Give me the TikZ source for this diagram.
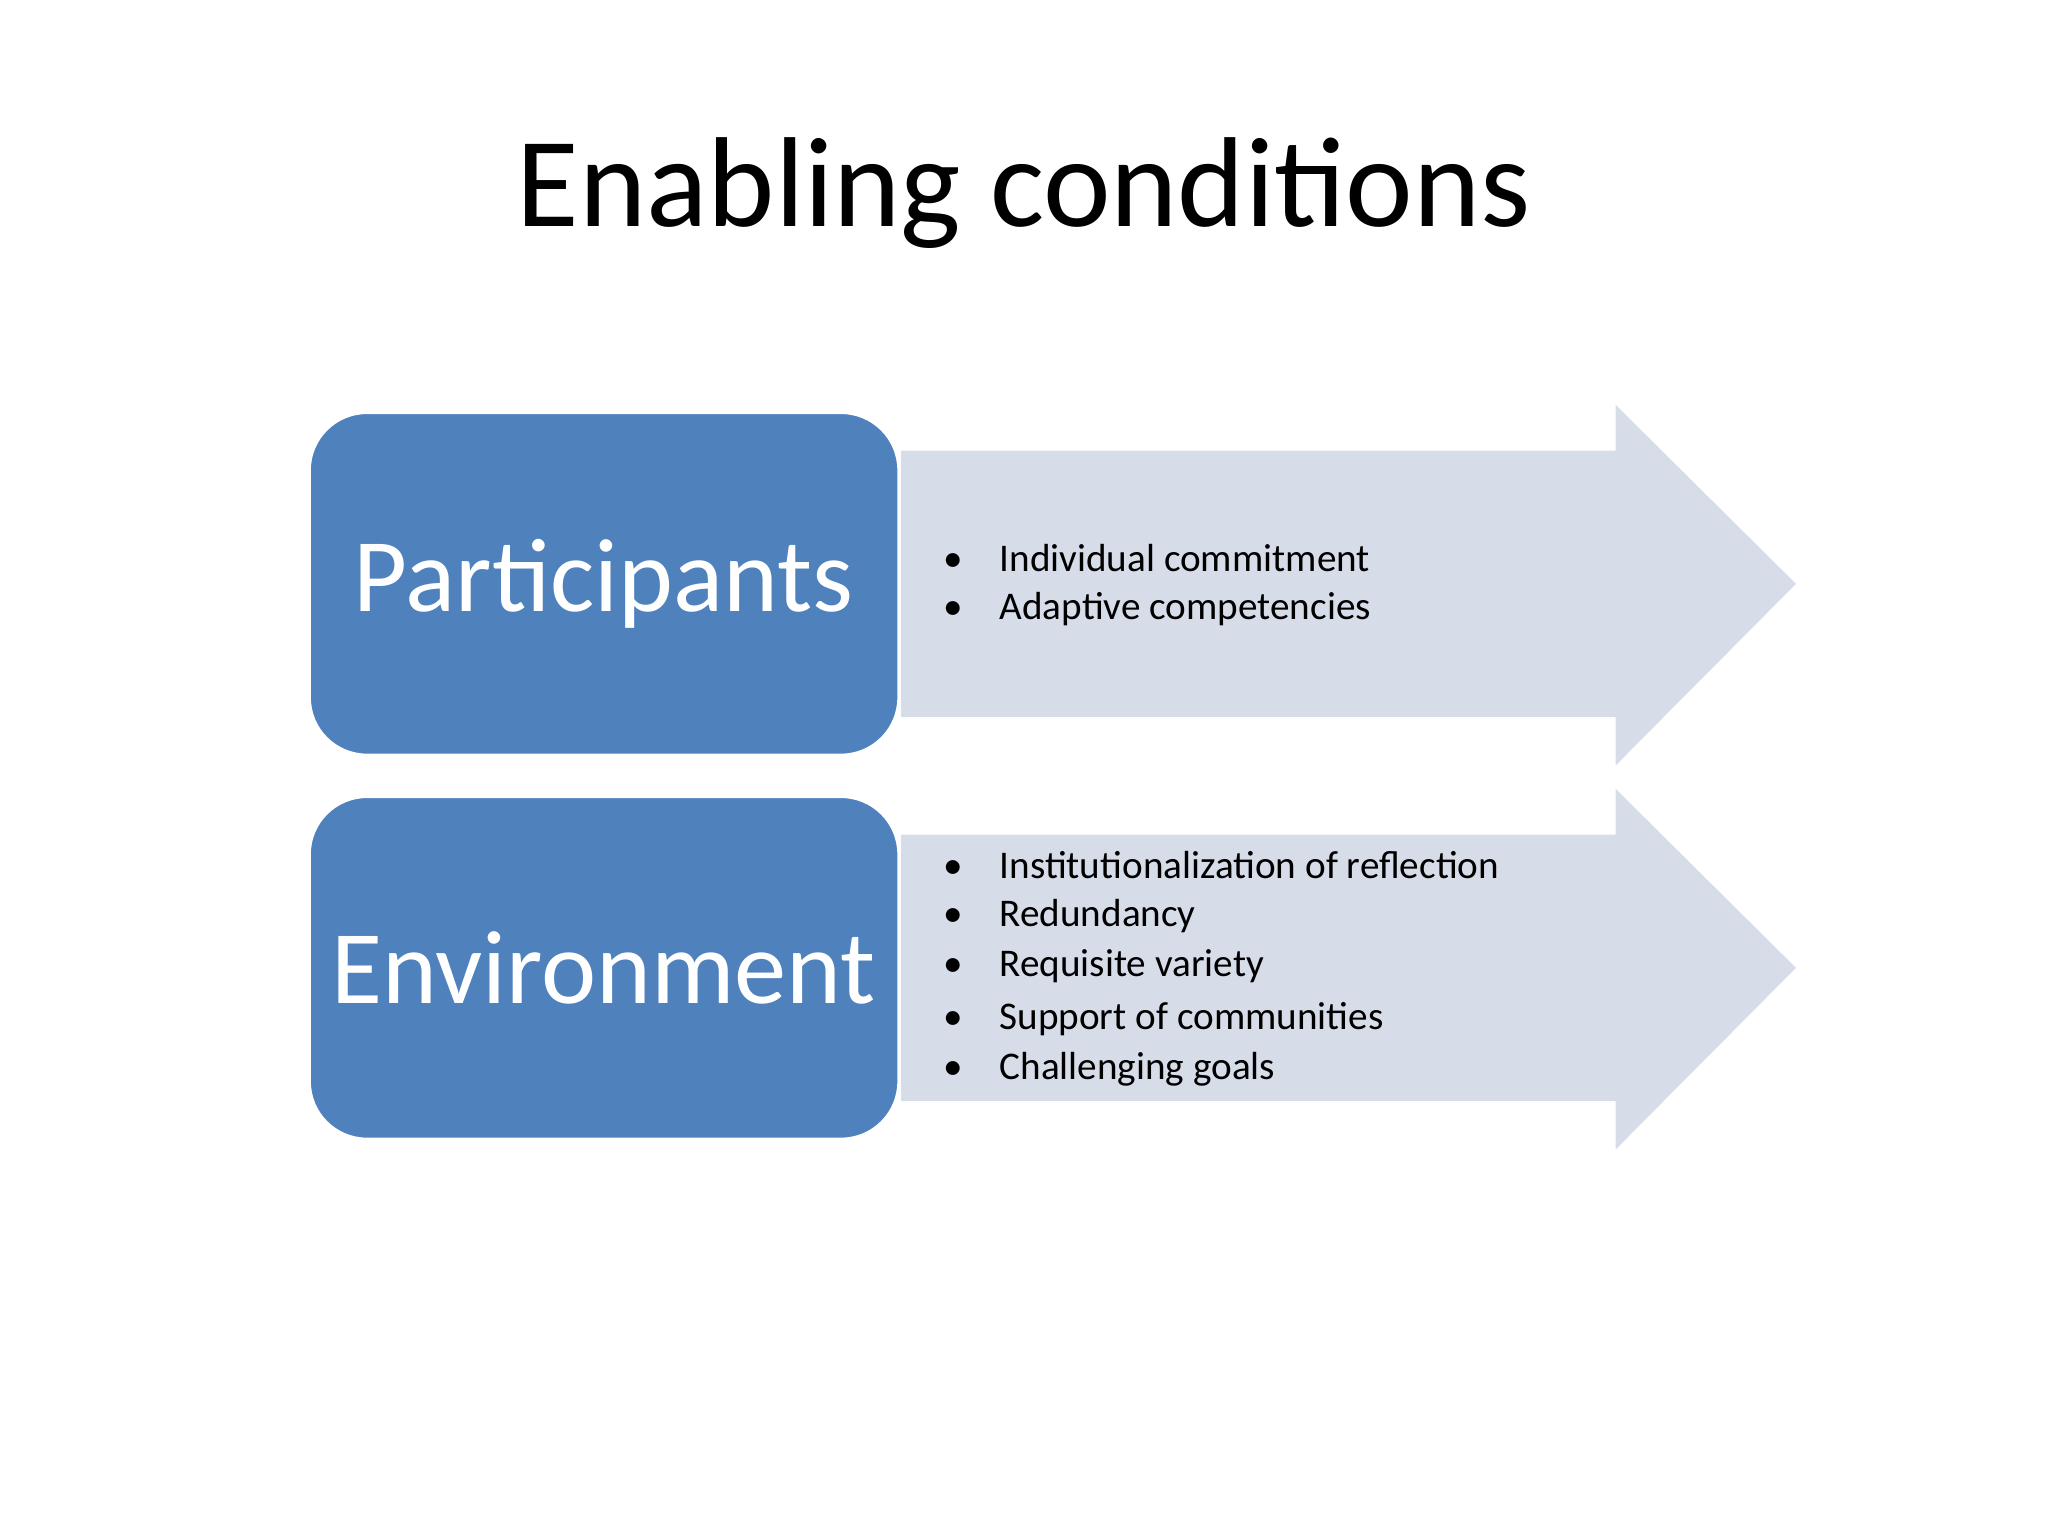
\documentclass[tikz,border=0pt]{standalone}
\usepackage{fontspec}
\setmainfont{Carlito}
\definecolor{boxblue}{HTML}{4F81BD}
\definecolor{arrowgrey}{HTML}{D6DCE8}
\begin{document}
\begin{tikzpicture}[x=0.5pt,y=-0.5pt,
  catbox/.style={fill=boxblue,draw=white,line width=1pt,rounded corners=22pt,text=white,font=\fontsize{40}{48}\selectfont},
  arr/.style={fill=arrowgrey,draw=none},
  item/.style={anchor=west,font=\fontsize{15}{18}\selectfont,inner sep=0pt}]
\useasboundingbox (0,0) rectangle (1568,1176);
\node (title) at (784,148) {\fontsize{49}{58}\selectfont Enabling conditions};
% arrow 1
\path[arr] (690,345) -- (1237,345) -- (1237,310) -- (1375,447) -- (1237,586) -- (1237,549) -- (690,549) -- cycle;
\draw[catbox] (237,316) rectangle (688,578);
\node[text=white,font=\fontsize{40}{48}\selectfont] (p) at (462,447) {Participants};
\foreach \t/\y [count=\i] in {Individual commitment/427, Adaptive competencies/466}
  \node[item] (a\i) at (722,\y) {\textbullet\hspace{14pt}\t};
% arrow 2
\path[arr] (690,639) -- (1237,639) -- (1237,604) -- (1375,741) -- (1237,880) -- (1237,843) -- (690,843) -- cycle;
\draw[catbox] (237,610) rectangle (688,872);
\node[text=white,font=\fontsize{40}{48}\selectfont] (e) at (462,741) {Environment};
\foreach \t/\y [count=\i] in {Institutionalization of reflection/662, Redundancy/701, Requisite variety/740, Support of communities/780, Challenging goals/819}
  \node[item] (b\i) at (722,\y) {\textbullet\hspace{14pt}\t};
\end{tikzpicture}
\end{document}
